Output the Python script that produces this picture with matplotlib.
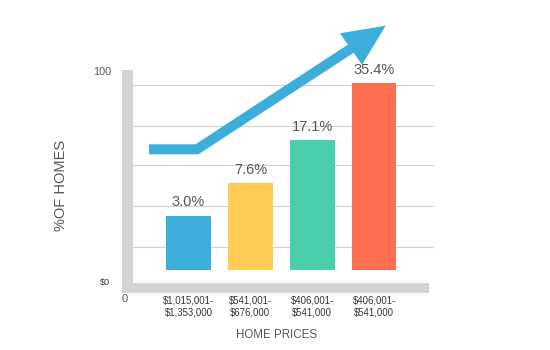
import numpy as np
import matplotlib.pyplot as plt
from matplotlib.patches import Polygon
from matplotlib.lines import Line2D

plt.rcParams['font.family'] = ['Liberation Sans', 'DejaVu Sans']

# fasce di prezzo e quota di case per fascia
price_ranges = [r'\$1,015,001-' + '\n' + r'\$1,353,000',
                r'\$541,001-' + '\n' + r'\$676,000',
                r'\$406,001-' + '\n' + r'\$541,000',
                r'\$406,001-' + '\n' + r'\$541,000']
shares = [3.0, 7.6, 17.1, 35.4]
bar_colors = ['#3daedb', '#ffcd57', '#49cfae', '#fe6f52']

W, H = 550, 350


def fx(x, y):
    # pixel (dall'alto a sinistra) -> coordinate figura
    return x / W, 1 - y / H


fig = plt.figure(figsize=(5.5, 3.5), dpi=100)
ax = fig.add_axes([133 / W, 1 - 270 / H, 301 / W, 200 / H])
ax.set_facecolor('none')

# scala a radice quadrata per le barre
ax.set_yscale('function', functions=(lambda v: np.sqrt(np.clip(v, 0, None)), np.square))

x = np.arange(len(shares))
bars = ax.bar(x, shares, width=0.72, color=bar_colors, zorder=3)
ax.bar_label(bars, labels=['%.1f%%' % v for v in shares], padding=4.5,
             fontsize=10.5, color='#555555')
ax.set_xlim(-0.897, 3.966)
ax.set_ylim(0, 40.5)

# linee orizzontali di sfondo
for f in [0.925, 0.72, 0.525, 0.32, 0.115]:
    ax.plot([0, 1], [f, f], transform=ax.transAxes, color='#d0d0d0', lw=0.8, zorder=1)

for s in ax.spines.values():
    s.set_visible(False)
ax.set_yticks([])
ax.set_xticks(x)
ax.set_xticklabels(price_ranges, fontsize=6.9, color='#333333', linespacing=1.25)
ax.tick_params(axis='x', length=0, pad=18.5)

# assi grigi spessi a forma di L
grey = '#d2d3d5'
corner = [fx(122, 70), fx(133, 70), fx(133, 283), fx(429, 283), fx(429, 293), fx(122, 293)]
fig.add_artist(Polygon(corner, closed=True, transform=fig.transFigure, color=grey,
                       lw=0, zorder=-1))

# freccia di crescita
pts = [fx(149, 149.3), fx(197, 149.3), fx(355, 45.9)]
fig.add_artist(Line2D([p[0] for p in pts], [p[1] for p in pts], transform=fig.transFigure,
                      color='#3daedb', lw=7.2, solid_joinstyle='miter',
                      solid_capstyle='butt', zorder=4))
fig.add_artist(Polygon([fx(385.7, 25.7), fx(340, 33.3), fx(362, 64.8)],
                       closed=True, transform=fig.transFigure, color='#3daedb', lw=0, zorder=4))

fig.text(111.7 / W, 1 - 72 / H, '100', ha='right', va='center', fontsize=7.8, color='#555555')
fig.text(110 / W, 1 - 282.7 / H, '$0', ha='right', va='center', fontsize=6.5, color='#333333')
fig.text(124.3 / W, 1 - 299.5 / H, '0', ha='center', va='center', fontsize=8, color='#555555')
fig.text(60.7 / W, 1 - 185 / H, '%OF HOMES', rotation=90, ha='center', va='center',
         fontsize=10.5, color='#555555')
fig.text(276.7 / W, 1 - 335 / H, 'HOME PRICES', ha='center', va='center',
         fontsize=8.3, color='#555555')

fig.savefig('out.png', dpi=100)
